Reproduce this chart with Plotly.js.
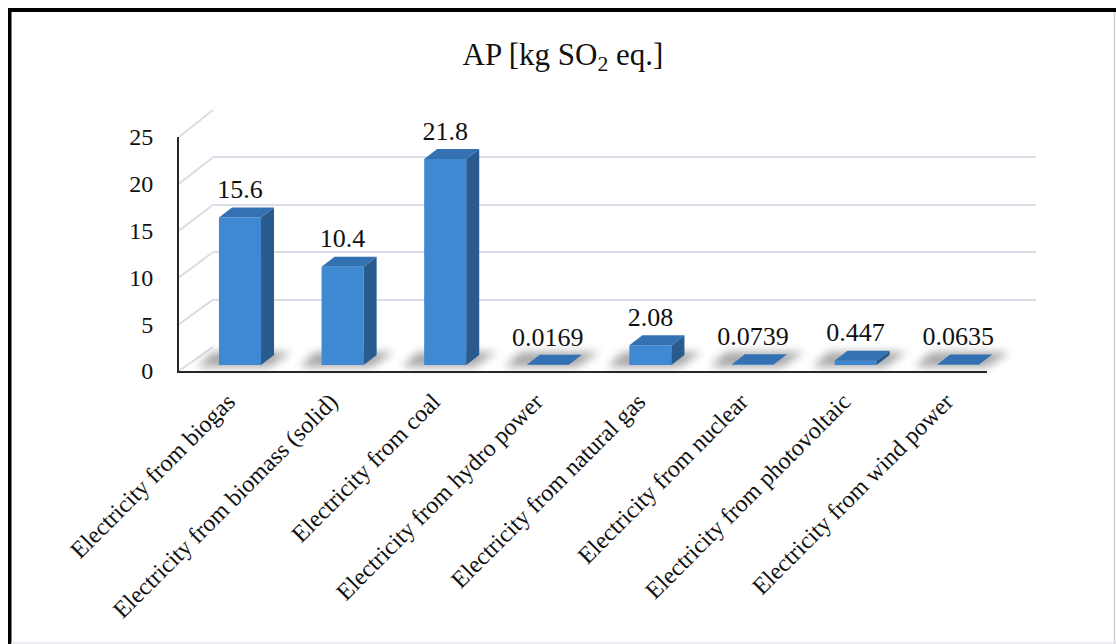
<!DOCTYPE html>
<html>
<head>
<meta charset="utf-8">
<script src="https://cdn.plot.ly/plotly-3.0.1.min.js"></script>
<style>
  html, body { margin: 0; padding: 0; background: #ffffff; }
  #chart { width: 1116px; height: 644px; }
</style>
</head>
<body>
<div id="chart"></div>
<script>
// ---- data ----
const categories = [
  "Electricity from biogas",
  "Electricity from biomass (solid)",
  "Electricity from coal",
  "Electricity from hydro power",
  "Electricity from natural gas",
  "Electricity from nuclear",
  "Electricity from photovoltaic",
  "Electricity from wind power"
];
const values = [15.6, 10.4, 21.8, 0.0169, 2.08, 0.0739, 0.447, 0.0635];
const valueTicks = [0, 5, 10, 15, 20, 25];
const titleText = "AP [kg SO<sub>2</sub> eq.]";

// ---- page geometry (pixels) ----
const W = 1116, H = 644;
const fx = p => p / W;
const fy = p => 1 - p / H;
const vMax = 25;

// front plane (value axis + category axis line)
const FRONT = { x0: 179, x1: 987, yBase: 371, yTop: 137 };
// back wall (gridlines)
const BACK = { x0: 213, x1: 1036, yBase: 347, yTop: 110 };
// plane the columns stand in
const BARS = { x0: 188.7, x1: 1009.5, yBase: 365, yTop: 128.75 };
// depth of each column (side / top face offset)
const DEPTH = { dx: 13, dy: 10 };
// where the first category label ends on the front axis
const LABEL_X0 = 228;

const n = categories.length;
const slot = (BARS.x1 - BARS.x0) / n;
const unitPx = (BARS.yBase - BARS.yTop) / vMax;
const dxU = DEPTH.dx / slot;
const dyU = DEPTH.dy / unitPx;
const barW = 0.41;
const labelGap = 0.3;

// front category axis range so its ticks follow the column spacing
const frontSpan = (FRONT.x1 - FRONT.x0) / slot;
const frontR0 = -(LABEL_X0 - FRONT.x0) / slot;

const FONT = "Liberation Serif, 'Times New Roman', serif";
const idx = categories.map((_, i) => i);

// side and top faces of each column, built from its value
const sideX = [], sideY = [], topX = [], topY = [];
values.forEach((v, i) => {
  const l = i - barW / 2, r = i + barW / 2;
  sideX.push(r, r + dxU, r + dxU, r, r, null);
  sideY.push(0, dyU, v + dyU, v, 0, null);
  topX.push(l, r, r + dxU, l + dxU, l, null);
  topY.push(v, v, v + dyU, v + dyU, v, null);
});

const traces = [
  { type: "scatter", mode: "none", x: [0], y: [0], xaxis: "x", yaxis: "y", hoverinfo: "skip", showlegend: false },
  { type: "scatter", mode: "none", x: [0], y: [0], xaxis: "x2", yaxis: "y2", hoverinfo: "skip", showlegend: false },
  {
    type: "bar", x: idx, y: values, xaxis: "x3", yaxis: "y3",
    width: barW, marker: { color: "#3f89d3", line: { width: 0 } },
    hoverinfo: "skip", showlegend: false
  },
  {
    type: "scatter", mode: "lines", x: sideX, y: sideY, xaxis: "x3", yaxis: "y3",
    fill: "toself", fillcolor: "#295b8e", line: { width: 0, color: "#295b8e" },
    hoverinfo: "skip", showlegend: false
  },
  {
    type: "scatter", mode: "lines", x: topX, y: topY, xaxis: "x3", yaxis: "y3",
    fill: "toself", fillcolor: "#3471b2", line: { width: 0, color: "#3471b2" },
    hoverinfo: "skip", showlegend: false
  },
  {
    type: "scatter", mode: "text", xaxis: "x3", yaxis: "y3",
    x: idx,
    y: values.map(v => v + dyU + labelGap),
    text: values.map(v => String(v)),
    textposition: "top center",
    textfont: { family: FONT, size: 26, color: "#111111" },
    cliponaxis: false, hoverinfo: "skip", showlegend: false
  }
];

// wall/floor connectors from the front axis to the back wall
const frontY = v => FRONT.yBase - v * (FRONT.yBase - FRONT.yTop) / vMax;
const backY = v => BACK.yBase - v * (BACK.yBase - BACK.yTop) / vMax;
const shapes = [];
valueTicks.forEach(v => {
  shapes.push({
    type: "line", xref: "paper", yref: "paper", layer: "below",
    x0: fx(FRONT.x0), y0: fy(frontY(v)), x1: fx(BACK.x0), y1: fy(backY(v)),
    line: { color: "#d9dee6", width: 2 }
  });
});

// soft floor shadows around each column base
const SHADOW_FILL = "rgb(110, 110, 110)";
values.forEach((v, i) => {
  const cx = BARS.x0 + (i + 0.5) * slot;
  const l = cx - barW * slot / 2, r = cx + barW * slot / 2;
  const yF = BARS.yBase + 2, yB = BARS.yBase - 13;
  const pts = [[l - 22, yF], [r + 8, yF], [r + 30, yB], [l - 6, yB]];
  shapes.push({
    type: "path", xref: "paper", yref: "paper", layer: "below",
    path: "M" + pts.map(p => fx(p[0]) + "," + fy(p[1])).join("L") + "Z",
    fillcolor: SHADOW_FILL, opacity: 0.6, line: { width: 0 }
  });
});

// outer frame
shapes.push(
  { type: "rect", xref: "paper", yref: "paper", x0: fx(8), x1: 1, y0: fy(12), y1: fy(8),
    fillcolor: "#000000", line: { width: 0 } },
  { type: "rect", xref: "paper", yref: "paper", x0: fx(8), x1: fx(11.5), y0: 0, y1: fy(8),
    fillcolor: "#000000", line: { width: 0 } },
  { type: "line", xref: "paper", yref: "paper", x0: fx(1114.5), x1: fx(1114.5), y0: 0, y1: fy(12),
    line: { color: "#cfd3d9", width: 1.5 } },
  { type: "line", xref: "paper", yref: "paper", x0: fx(11), x1: 1, y0: fy(643), y1: fy(643),
    line: { color: "#e3e6ea", width: 1.5 } }
);

const layout = {
  width: W, height: H,
  margin: { l: 0, r: 0, t: 0, b: 0, pad: 0 },
  paper_bgcolor: "#ffffff", plot_bgcolor: "rgba(0,0,0,0)",
  showlegend: false,
  title: {
    text: titleText,
    font: { family: FONT, size: 31, color: "#111111" },
    x: fx(563), xanchor: "center", y: fy(54), yanchor: "middle"
  },
  xaxis: {
    domain: [fx(FRONT.x0), fx(FRONT.x1)], range: [frontR0, frontR0 + frontSpan], anchor: "y",
    tickvals: idx, ticktext: categories, tickangle: -45,
    ticks: "outside", ticklen: 5, tickcolor: "rgba(0,0,0,0)",
    tickfont: { family: FONT, size: 24, color: "#111111" },
    showline: true, linecolor: "#262626", linewidth: 2,
    showgrid: false, zeroline: false, fixedrange: true
  },
  yaxis: {
    domain: [fy(FRONT.yBase), fy(FRONT.yTop)], range: [0, vMax], anchor: "x",
    tickvals: valueTicks, ticktext: valueTicks.map(String),
    showline: true, linecolor: "#262626", linewidth: 2,
    showgrid: false, zeroline: false,
    ticks: "outside", ticklen: 19, tickcolor: "rgba(0,0,0,0)",
    tickfont: { family: FONT, size: 24, color: "#111111" }, fixedrange: true
  },
  xaxis2: {
    domain: [fx(BACK.x0), fx(BACK.x1)], range: [0, 1], anchor: "y2",
    showline: false, showgrid: false, zeroline: false, showticklabels: false, ticks: "", fixedrange: true
  },
  yaxis2: {
    domain: [fy(BACK.yBase), fy(BACK.yTop)], range: [0, vMax], anchor: "x2",
    tickvals: valueTicks, showgrid: true, gridcolor: "#d9dee6", gridwidth: 2,
    showline: false, zeroline: false, showticklabels: false, ticks: "", fixedrange: true
  },
  xaxis3: {
    domain: [fx(BARS.x0), fx(BARS.x1)], range: [-0.5, n - 0.5], anchor: "y3",
    visible: false, showgrid: false, zeroline: false, fixedrange: true
  },
  yaxis3: {
    domain: [fy(BARS.yBase), fy(BARS.yTop)], range: [0, vMax], anchor: "x3",
    visible: false, showgrid: false, zeroline: false, fixedrange: true
  },
  shapes: shapes
};

Plotly.newPlot("chart", traces, layout, { staticPlot: true, displayModeBar: false }).then(gd => {
  // blur the floor shadows
  const svg = gd.querySelector(".main-svg");
  const NS = "http://www.w3.org/2000/svg";
  let defs = svg.querySelector("defs");
  if (!defs) { defs = document.createElementNS(NS, "defs"); svg.insertBefore(defs, svg.firstChild); }
  const filter = document.createElementNS(NS, "filter");
  filter.setAttribute("id", "floorBlur");
  filter.setAttribute("x", "-50%"); filter.setAttribute("y", "-150%");
  filter.setAttribute("width", "200%"); filter.setAttribute("height", "400%");
  const blur = document.createElementNS(NS, "feGaussianBlur");
  blur.setAttribute("stdDeviation", "4");
  filter.appendChild(blur);
  defs.appendChild(filter);
  gd.querySelectorAll(".shapelayer path").forEach(p => {
    if (p.style.fill === SHADOW_FILL) p.setAttribute("filter", "url(#floorBlur)");
  });
});
</script>
</body>
</html>
